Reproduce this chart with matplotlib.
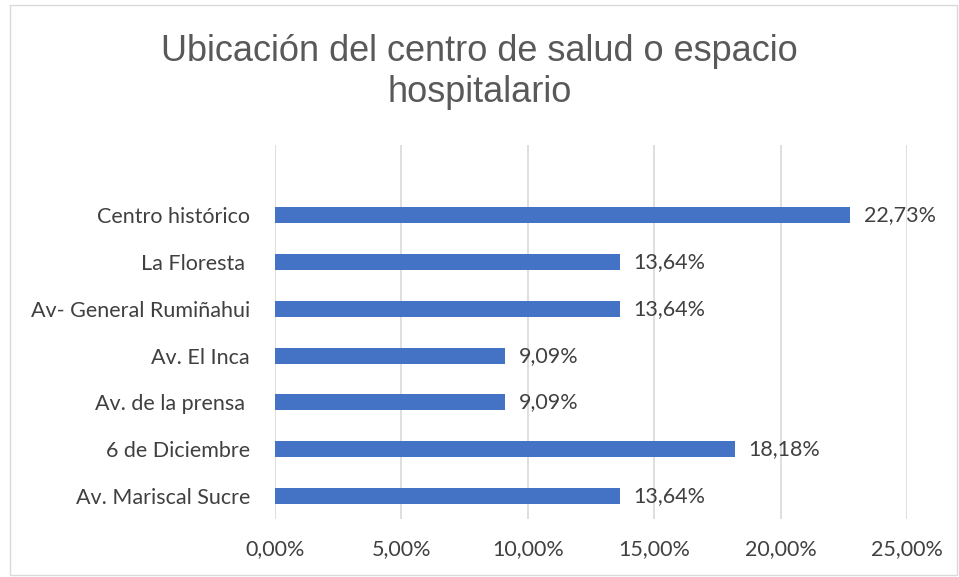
import matplotlib.pyplot as plt
from matplotlib.patches import Rectangle

# categories from bottom to top, as drawn
categories = ['Av. Mariscal Sucre', '6 de Diciembre', 'Av. de la prensa ', 'Av. El Inca',
              'Av- General Rumiñahui', 'La Floresta ', 'Centro histórico']
values = [13.64, 18.18, 9.09, 9.09, 13.64, 13.64, 22.73]
xticks = [0, 5, 10, 15, 20, 25]

bar_color = '#4472C4'
text_color = '#404040'

fig = plt.figure(figsize=(9.59, 5.77), dpi=100)
ax = fig.add_axes([0.2868, 0.0998, 0.659, 0.6489])

pos = list(range(len(categories)))
ax.barh(pos, values, height=0.34, color=bar_color, zorder=3)

# data labels
for y, v in zip(pos, values):
    lab = f'{v:.2f}%'.replace('.', ',')
    ax.annotate(lab, (v, y), xytext=(10, 0), textcoords='offset points',
                va='center', ha='left', fontsize=15.5, color=text_color, family='Lato')

ax.set_xlim(0, 25)
ax.set_ylim(-0.5, 7.5)
ax.set_xticks(xticks)
ax.set_xticklabels([f'{t:.2f}%'.replace('.', ',') for t in xticks],
                   fontsize=15.5, color=text_color, family='Lato')
ax.set_yticks(pos)
ax.set_yticklabels(categories, fontsize=15.5, color=text_color, family='Lato')
ax.tick_params(length=0, pad=14, axis='x')
ax.tick_params(length=0, pad=18, axis='y')

ax.grid(axis='x', color='#D9D9D9', linewidth=1.2, zorder=0)
for s in ax.spines.values():
    s.set_visible(False)

fig.text(0.5, 0.876, 'Ubicación del centro de salud o espacio\nhospitalario',
         ha='center', va='center', fontsize=26, color='#595959',
         family='Liberation Sans', linespacing=1.22)

# chart border
fig.patches.append(Rectangle((10 / 959, 2 / 577), 947 / 959, 570 / 577,
                             transform=fig.transFigure, fill=False,
                             edgecolor='#D9D9D9', linewidth=1))

fig.savefig('out.png', dpi=100)
